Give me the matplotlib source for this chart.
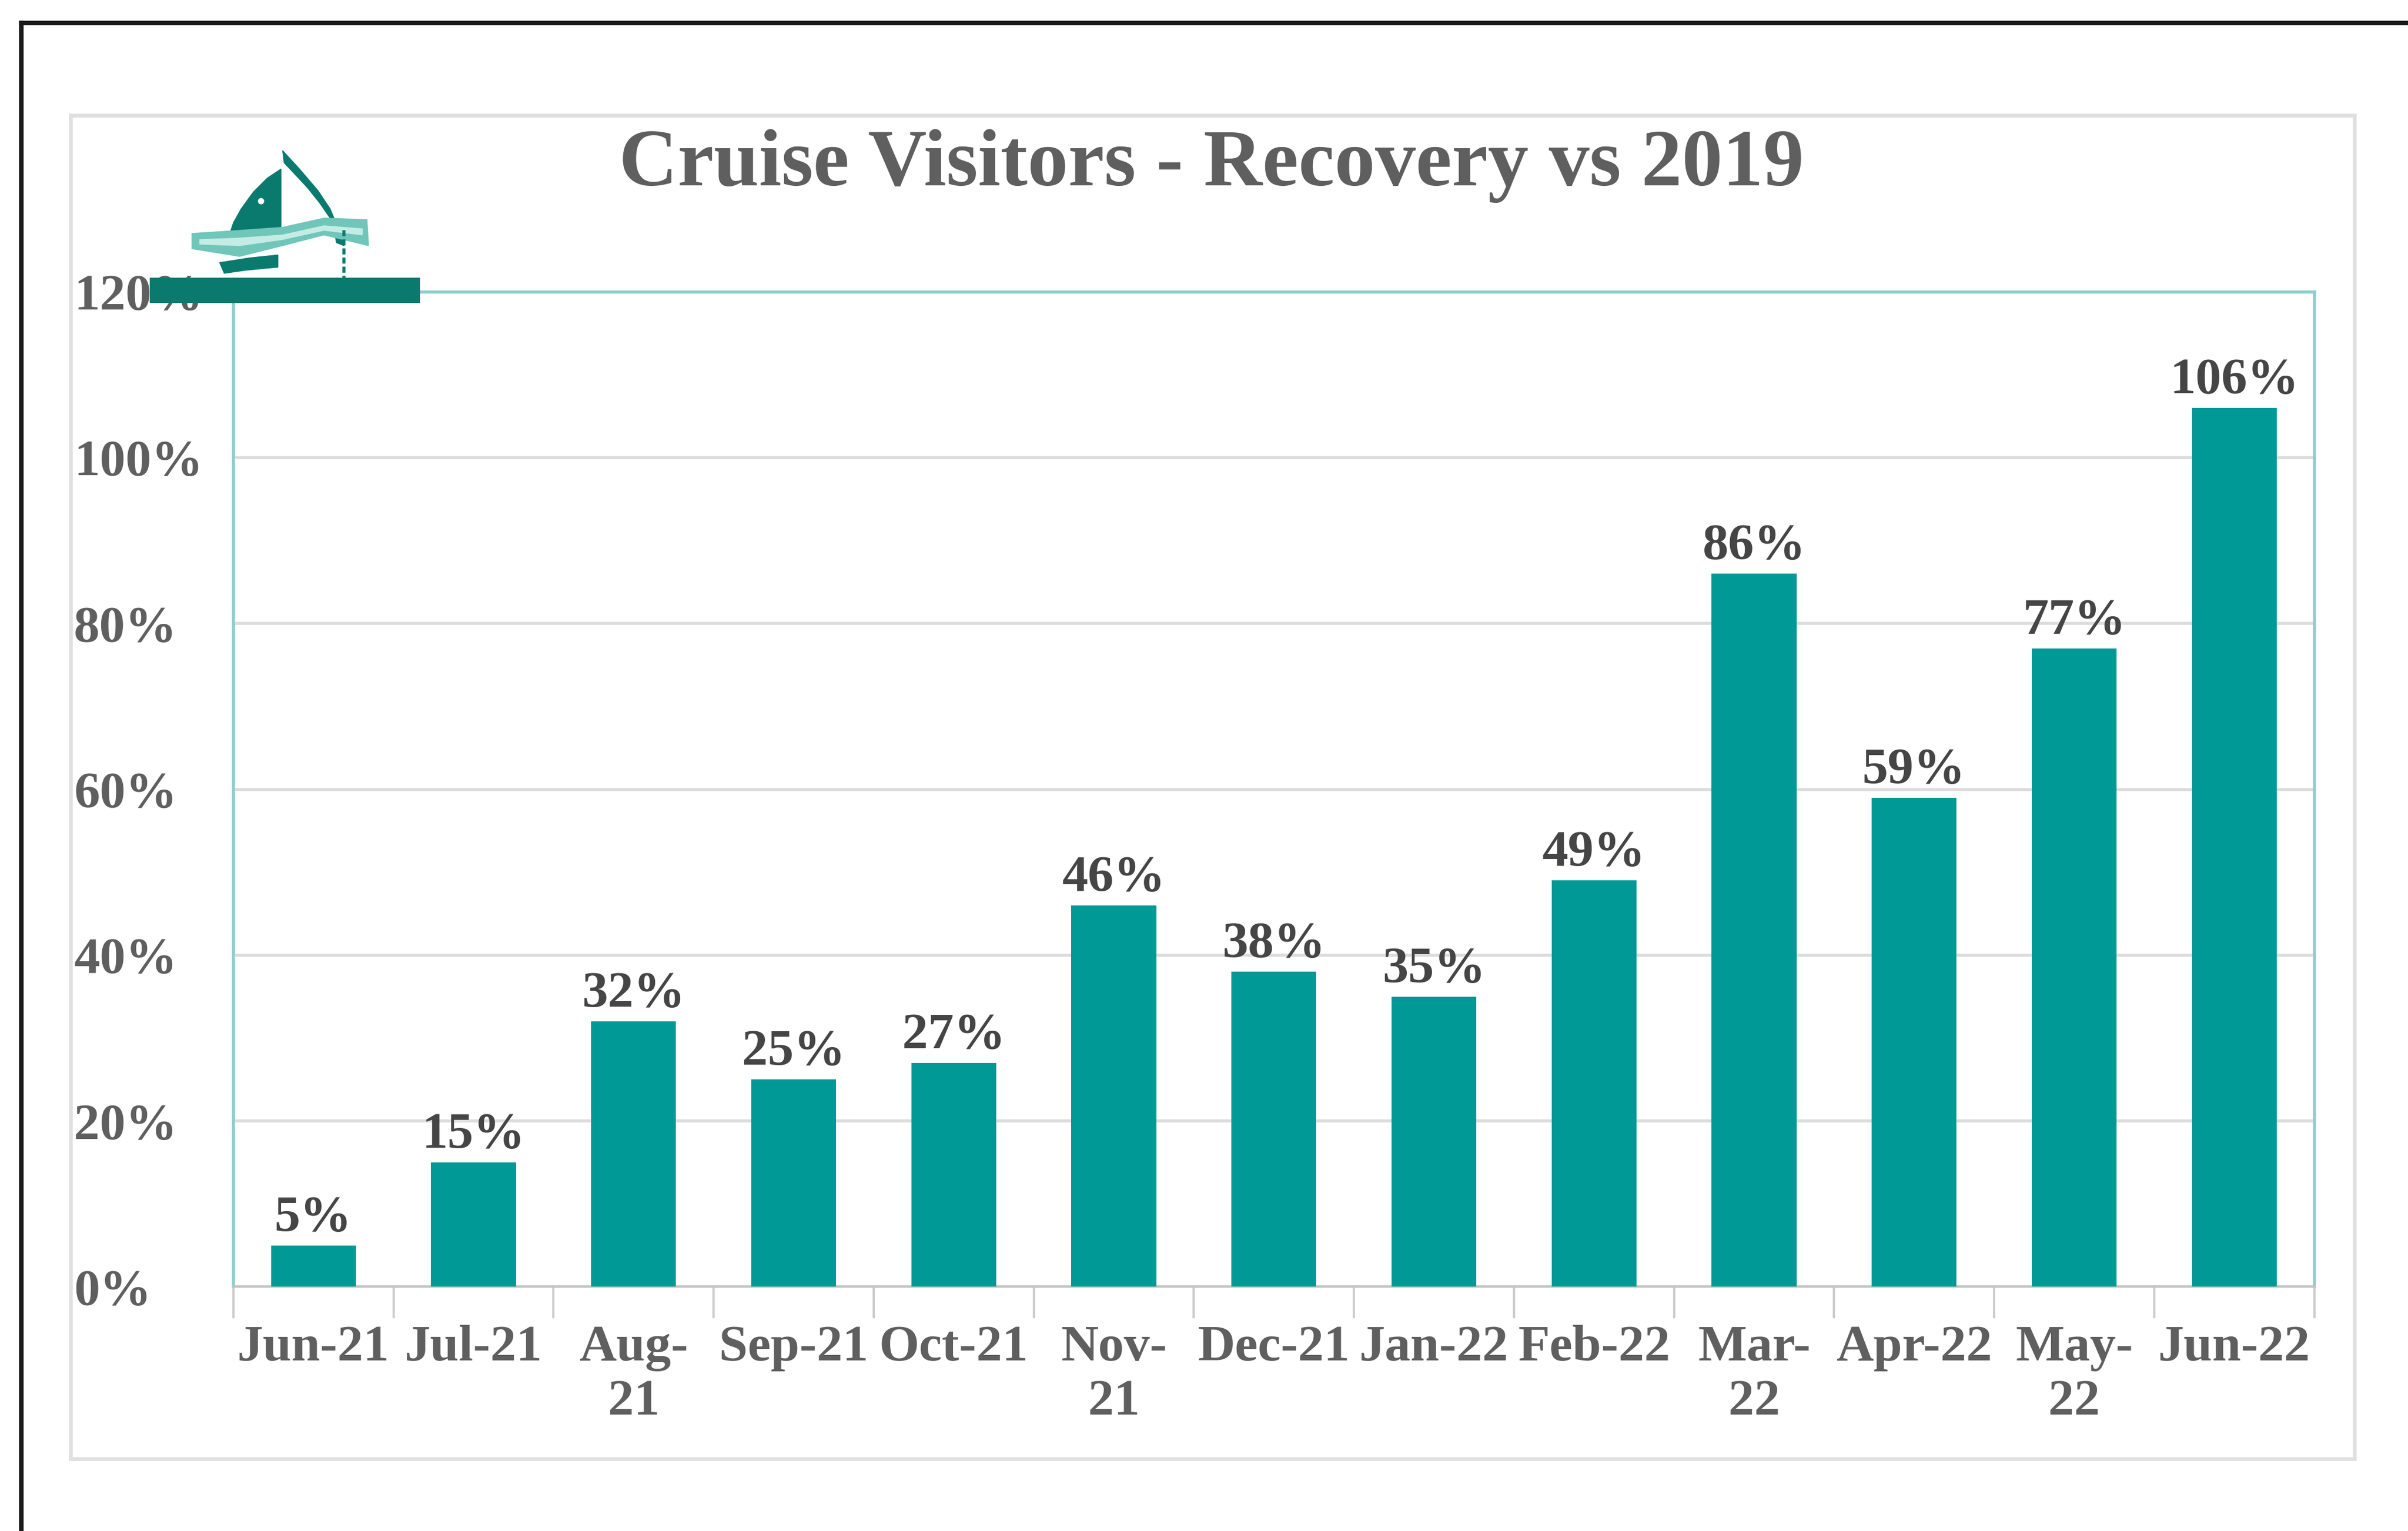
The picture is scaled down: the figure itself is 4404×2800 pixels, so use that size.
import matplotlib
matplotlib.use('Agg')
import matplotlib.pyplot as plt
from matplotlib.patches import Rectangle, Polygon, Circle
from matplotlib.lines import Line2D
import numpy as np

# data
months = ['Jun-21', 'Jul-21', 'Aug-\n21', 'Sep-21', 'Oct-21', 'Nov-\n21', 'Dec-21',
          'Jan-22', 'Feb-22', 'Mar-\n22', 'Apr-22', 'May-\n22', 'Jun-22']
recovery = [5, 15, 32, 25, 27, 46, 38, 35, 49, 86, 59, 77, 106]
y_ticks = [0, 20, 40, 60, 80, 100, 120]
y_tick_labels = ['0%', '20%', '40%', '60%', '80%', '100%', '120%']
title = 'Cruise Visitors - Recovery vs 2019'

bar_color = '#009996'
teal_edge = '#8ccfcb'
grid_color = '#dcdcdc'
text_gray = '#5f5f5f'
label_gray = '#454545'
serif = ['Liberation Serif', 'DejaVu Serif']
fs = 68

W, H = 1568.0, 997.0  # layout measured on the shrunk reference
def fx(x):
    return x / W
def fy(y):
    return 1 - y / H

fig = plt.figure(figsize=(44.04, 28.0), dpi=100)
fig.patch.set_facecolor('white')

# outer black frame (cut off on right and bottom in the screenshot)
fig.add_artist(Line2D([fx(14), 1], [fy(15), fy(15)], color='#1a1a1a', lw=6))
fig.add_artist(Line2D([fx(14), fx(14)], [0, fy(15)], color='#1a1a1a', lw=6))

# chart area border
fig.add_artist(Rectangle((fx(46), fy(950)), fx(1533) - fx(46), fy(75) - fy(950),
                         fill=False, edgecolor='#e0e0e0', lw=5))

ax = fig.add_axes([fx(152), fy(838), fx(1507) - fx(152), fy(190) - fy(838)])
x = np.arange(len(months))
bars = ax.bar(x, recovery, width=0.53, color=bar_color, zorder=3)

ax.set_xlim(-0.5, len(months) - 0.5)
ax.set_ylim(0, 120)
ax.set_yticks(y_ticks)
ax.set_yticklabels(y_tick_labels)
ax.yaxis.grid(True, color=grid_color, lw=4, zorder=0)
ax.set_axisbelow(True)

for s in ['left', 'top', 'right']:
    ax.spines[s].set_color(teal_edge)
    ax.spines[s].set_linewidth(4)
ax.spines['bottom'].set_color('#c4c4c4')
ax.spines['bottom'].set_linewidth(3)

ax.tick_params(axis='y', length=0, pad=210, labelsize=fs, labelcolor=text_gray)
for lab in ax.get_yticklabels():
    lab.set_horizontalalignment('left')
    lab.set_family(serif)
    lab.set_fontweight('bold')

ax.set_xticks(x)
ax.set_xticklabels(months, linespacing=1.22)
ax.set_xticks(np.arange(-0.5, len(months)), minor=True)
ax.tick_params(axis='x', which='major', length=0, pad=50, labelsize=fs, labelcolor=text_gray)
ax.tick_params(axis='x', which='minor', length=42, width=3, color='#cccccc')
for lab in ax.get_xticklabels():
    lab.set_family(serif)
    lab.set_fontweight('bold')
    lab.set_verticalalignment('top')

for b, v in zip(bars, recovery):
    ax.annotate(f'{v}%', (b.get_x() + b.get_width() / 2, v), xytext=(0, 5),
                textcoords='offset points', ha='center', va='bottom',
                fontsize=fs, fontweight='bold', family=serif, color=label_gray)

fig.text(fx(789), fy(108), title, ha='center', va='center', fontsize=107,
         fontweight='bold', family=serif, color=text_gray)

# logo (decorative), drawn in shrunk-pixel coords on its own axes
lg = fig.add_axes([fx(95), fy(212), fx(280) - fx(95), fy(92) - fy(212)], zorder=10)
lg.set_xlim(95, 280)
lg.set_ylim(212, 92)
lg.axis('off')
dark = '#0b7a6e'
# right sail (crescent)
lg.add_patch(Polygon([(184, 98), (195, 110), (207, 124), (215, 136), (220, 148),
                      (224, 160), (219, 158), (217, 145), (208, 132), (200, 122),
                      (185, 106)], closed=True, color=dark))
# left sail
lg.add_patch(Polygon([(183, 110), (174, 116), (165, 125), (157, 136), (152, 145),
                      (148, 157), (183, 153)], closed=True, color=dark))
lg.add_patch(Circle((170, 131), 1.8, color='white'))
# waves
lg.add_patch(Polygon([(125, 152), (156, 150), (184, 148), (211, 142), (239, 143),
                      (240, 160), (211, 153), (184, 160), (156, 167), (125, 162)],
                     closed=True, color='#6fc6b9'))
lg.add_patch(Polygon([(130, 156), (156, 155), (184, 153), (211, 147), (236, 149),
                      (236, 153), (211, 150), (184, 156), (156, 160), (130, 159)],
                     closed=True, color='#c4ebe5'))
# hull
lg.add_patch(Polygon([(143, 171), (162, 168), (181, 166), (181, 174), (160, 176),
                      (146, 178)], closed=True, color=dark))
lg.plot([224, 224], [150, 181], color=dark, lw=4, ls=(0, (2, 1)))
lg.add_patch(Rectangle((97.5, 181), 175.5, 16, color=dark))

fig.savefig('out.png', dpi=100, facecolor='white')
